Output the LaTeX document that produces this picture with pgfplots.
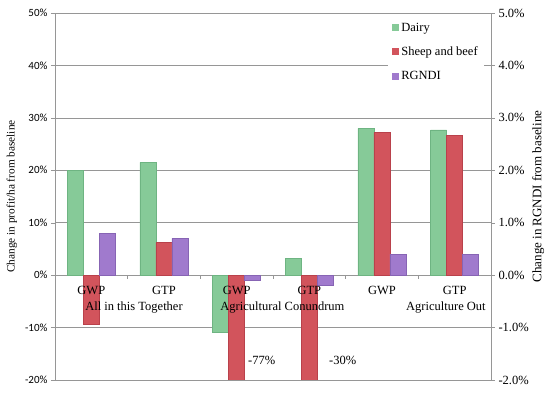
\documentclass[border=0pt]{standalone}
\usepackage{pgfplots}
\pgfplotsset{compat=1.18}
\usepackage{fontspec}
\setmainfont{Liberation Serif}
\newfontfamily\carlito{Carlito}
\definecolor{dairy}{RGB}{134,202,152}
\definecolor{dairyd}{RGB}{110,180,130}
\definecolor{sheep}{RGB}{210,84,92}
\definecolor{sheepd}{RGB}{185,65,75}
\definecolor{rgndi}{RGB}{160,122,205}
\definecolor{rgndid}{RGB}{135,100,180}
\definecolor{gridc}{RGB}{150,150,150}
\newcommand{\fs}{\fontsize{11}{12}\selectfont}
\newcommand{\fl}{\fontsize{12.5}{13}\selectfont}
\pgfplotsset{
  sqlegend/.style={legend image code/.code={\fill[##1, draw=none] (0pt,-3.5pt) rectangle (7pt,3.5pt);}},
  common/.style={at={(0,0)}, anchor=south west, width=436pt, height=367pt, scale only axis,
    xmin=-0.5, xmax=5.5, xtick=\empty, axis line style={gridc}, major tick style={gridc},
    tick align=outside, major tick length=4pt, clip=true}
}
\begin{document}
\begin{tikzpicture}
\useasboundingbox (-55pt,-14pt) rectangle (495pt,380pt);
\begin{axis}[common,
  ymin=-20, ymax=50, ytick={-20,-10,...,50},
  yticklabels={-20\%,-10\%,0\%,10\%,20\%,30\%,40\%,50\%},
  ytick pos=left, ymajorgrids, grid style={gridc, line width=0.6pt},
  yticklabel style={font=\carlito\fs},
  ylabel={Change in profit/ha from baseline},
  ylabel style={font=\fontsize{11.3}{12}\selectfont, at={(axis description cs:-0.099,0.5)}, anchor=center}]
\addplot[ybar, bar width=16pt, bar shift=-16pt, fill=dairy, draw=dairyd] coordinates {(0,20) (1,21.5) (2,-10.9) (3,3.2) (4,28) (5,27.7)};
\addplot[ybar, bar width=16pt, bar shift=0pt, fill=sheep, draw=sheepd] coordinates {(0,-9.4) (1,6.2) (2,-77) (3,-30) (4,27.2) (5,26.7)};
\end{axis}
\begin{axis}[common,
  ymin=-2, ymax=5, ytick={-2,-1,...,5},
  yticklabels={-2.0\%,-1.0\%,0.0\%,1.0\%,2.0\%,3.0\%,4.0\%,5.0\%},
  ytick pos=right, yticklabel style={font=\fl},
  ylabel={Change in RGNDI from baseline},
  ylabel style={font=\fontsize{13}{14}\selectfont, at={(axis description cs:1.108,0.5)}, anchor=center},
  legend style={at={(0.764,0.995)}, anchor=north west, draw=none, fill=white, font=\fl,
    row sep=10pt, inner xsep=4pt, inner ysep=6pt},
  legend cell align=left]
\addlegendimage{sqlegend, fill=dairy}
\addlegendentry{Dairy}
\addlegendimage{sqlegend, fill=sheep}
\addlegendentry{Sheep and beef}
\addplot[ybar, bar width=16pt, bar shift=16pt, fill=rgndi, draw=rgndid, sqlegend] coordinates {(0,0.8) (1,0.7) (2,-0.1) (3,-0.2) (4,0.4) (5,0.4)};
\addlegendentry{RGNDI}
\foreach \k in {0.5,1.5,2.5,3.5,4.5} {
  \edef\temp{\noexpand\draw[gridc] (axis cs:\k,0) -- ([yshift=-4pt]axis cs:\k,0);}\temp
}
\node[font=\fl] at (axis cs:0,-0.29) {GWP};
\node[font=\fl] at (axis cs:1,-0.29) {GTP};
\node[font=\fl] at (axis cs:2,-0.29) {GWP};
\node[font=\fl] at (axis cs:3,-0.29) {GTP};
\node[font=\fl] at (axis cs:4,-0.29) {GWP};
\node[font=\fl] at (axis cs:5,-0.29) {GTP};
\node[font=\fl] at (axis cs:0.587,-0.62) {All in this Together};
\node[font=\fl] at (axis cs:2.63,-0.62) {Agricultural Conundrum};
\node[font=\fl] at (axis cs:4.88,-0.62) {Agriculture Out};
\node[font=\fl, anchor=west, inner sep=0pt] at (axis cs:2.156,-1.62) {-77\%};
\node[font=\fl, anchor=west, inner sep=0pt] at (axis cs:3.27,-1.62) {-30\%};
\end{axis}
\end{tikzpicture}
\end{document}
